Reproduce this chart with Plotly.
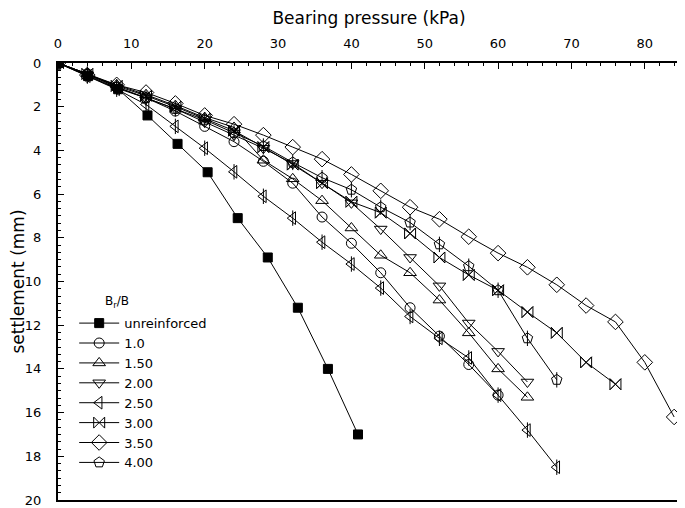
import plotly.graph_objects as go

# Bearing pressure (kPa) and settlement (mm) per series
p_unr = [0, 4.1, 8.2, 12.2, 16.3, 20.4, 24.5, 28.6, 32.7, 36.8, 40.9]
s_unr = [0, 0.6, 1.2, 2.4, 3.7, 5.0, 7.1, 8.9, 11.2, 14.0, 17.0]

p_10 = [0, 4, 8, 12, 16, 20, 24, 28, 32, 36, 40, 44, 48, 52, 56, 60]
s_10 = [0, 0.5, 1.1, 1.6, 2.2, 2.9, 3.6, 4.5, 5.5, 7.05, 8.25, 9.6, 11.2, 12.5, 13.8, 15.2]

p_150 = [0, 4, 8, 12, 16, 20, 24, 28, 32, 36, 40, 44, 48, 52, 56, 60, 64]
s_150 = [0, 0.5, 1.0, 1.45, 1.95, 2.5, 2.95, 4.45, 5.3, 6.3, 7.55, 8.8, 9.6, 10.85, 12.35, 14.0, 15.3]

p_200 = [0, 4, 8, 12, 16, 20, 24, 28, 32, 36, 40, 44, 48, 52, 56, 60, 64]
s_200 = [0, 0.55, 1.15, 1.6, 2.1, 2.7, 3.3, 3.9, 4.6, 5.5, 6.4, 7.6, 8.9, 10.2, 11.9, 13.2, 14.6]

p_250 = [0, 4, 8, 12, 16, 20, 24, 28, 32, 36, 40, 44, 48, 52, 56, 60, 64, 68]
s_250 = [0, 0.6, 1.2, 1.9, 2.9, 3.9, 4.98, 6.1, 7.1, 8.2, 9.2, 10.3, 11.6, 12.6, 13.5, 15.2, 16.8, 18.5]

p_300 = [0, 4, 8, 12, 16, 20, 24, 28, 32, 36, 40, 44, 48, 52, 56, 60, 64, 68, 72, 76]
s_300 = [0, 0.5, 1.05, 1.5, 2.0, 2.55, 3.1, 3.85, 4.65, 5.5, 6.35, 6.85, 7.8, 8.9, 9.7, 10.4, 11.4, 12.35, 13.7, 14.7]

p_350 = [0, 4, 8, 12, 16, 20, 24, 28, 32, 36, 40, 44, 48, 52, 56, 60, 64, 68, 72, 76, 80, 84]
s_350 = [0, 0.55, 1.0, 1.35, 1.85, 2.4, 2.8, 3.3, 3.85, 4.4, 5.1, 5.85, 6.6, 7.15, 7.95, 8.7, 9.35, 10.15, 11.1, 11.85, 13.7, 16.2]

p_400 = [0, 4, 8, 12, 16, 20, 24, 28, 32, 36, 40, 44, 48, 52, 56, 60, 64, 68]
s_400 = [0, 0.5, 1.1, 1.6, 2.1, 2.6, 3.2, 3.8, 4.55, 5.25, 5.8, 6.6, 7.3, 8.3, 9.3, 10.4, 12.6, 14.5]

names = ["unreinforced", "1.0", "1.50", "2.00", "2.50", "3.00", "3.50", "4.00"]
series = [(p_unr, s_unr), (p_10, s_10), (p_150, s_150), (p_200, s_200),
          (p_250, s_250), (p_300, s_300), (p_350, s_350), (p_400, s_400)]
symbols = ["square", "circle-open", "triangle-up-open", "triangle-down-open",
           "triangle-left-open", "bowtie-open", "diamond-open", "pentagon-open"]
sizes = [9, 10, 11, 11, 11, 11, 12, 11]
# extra glyph strokes drawn over some markers (bar / cross) as in the original symbols
overlay = {"2.50": "line-ns-open", "3.00": "x-thin-open", "4.00": "line-ns-open"}

fig = go.Figure()
for name, (px_, sy), sym, sz in zip(names, series, symbols, sizes):
    fig.add_trace(go.Scatter(
        x=px_, y=sy, mode="lines+markers", name=name, legendgroup=name,
        line=dict(color="black", width=1),
        marker=dict(symbol=sym, size=sz, color="black",
                    line=dict(color="black", width=1)),
    ))
    if name in overlay:
        fig.add_trace(go.Scatter(
            x=px_, y=sy, mode="markers", name=name, legendgroup=name, showlegend=False,
            marker=dict(symbol=overlay[name], size=sz, color="black",
                        line=dict(color="black", width=1)),
        ))

font = "DejaVu Sans, sans-serif"
# page body has an 8px margin; figure sized so the plot lands where the reference has it
fig.update_layout(
    width=677, height=500,
    margin=dict(l=50, r=5, t=55, b=8),
    paper_bgcolor="white", plot_bgcolor="white",
    font=dict(family=font, size=13, color="black"),
    showlegend=True,
    legend=dict(x=0.026, y=0.439, xanchor="left", yanchor="top",
                bgcolor="rgba(0,0,0,0)", borderwidth=0,
                font=dict(family=font, size=13, color="black"),
                itemwidth=40, tracegroupgap=0),
    annotations=[dict(text="B<sub>r</sub>/B", x=0.072, y=0.453, xref="paper", yref="paper",
                      xanchor="left", yanchor="middle", showarrow=False,
                      font=dict(family=font, size=12, color="black"))],
)
fig.update_xaxes(
    side="top", range=[0, 84.8], dtick=10, tick0=0,
    showline=True, linecolor="black", linewidth=2, mirror=True,
    ticks="inside", ticklen=6, tickwidth=1, tickcolor="black",
    minor=dict(dtick=2, ticks="inside", ticklen=3, tickcolor="black", tickwidth=1),
    showgrid=False, zeroline=False,
    ticklabelstandoff=8,
    title=dict(text="Bearing pressure (kPa)", font=dict(family=font, size=17), standoff=14),
    automargin=False,
)
fig.update_yaxes(
    range=[20, 0], dtick=2, tick0=0,
    showline=True, linecolor="black", linewidth=2, mirror=True,
    ticks="inside", ticklen=6, tickwidth=1, tickcolor="black",
    minor=dict(dtick=1/3, ticks="inside", ticklen=3, tickcolor="black", tickwidth=1),
    showgrid=False, zeroline=False,
    ticklabelstandoff=12,
    title=dict(text="settlement (mm)", font=dict(family=font, size=17), standoff=5),
    automargin=False,
)
fig.write_html("out.html")
